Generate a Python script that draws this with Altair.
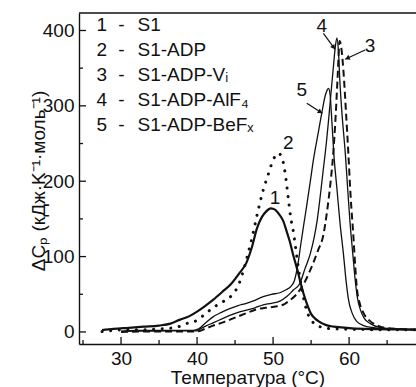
import math
import altair as alt
import pandas as pd

FONT = "Liberation Sans"
INK = "#111111"

# ---------------- data ----------------
t1 = [27.5, 29, 31, 33, 35, 36.5, 37.7, 39, 40, 41, 42.1, 43.3, 44.5, 45.5, 46.5, 47.2, 47.9, 48.5, 49.1, 49.7,
      50.3, 50.8, 51.3, 51.8, 52.2, 52.7, 53.1, 53.6, 54.0, 54.5, 55.0, 55.5, 56.0, 57.0, 58.0, 59.0, 60.0, 62.0, 65.0, 68.8]
v1 = [2.5, 4, 5.5, 7, 8.5, 11, 16, 21, 27, 34, 42.5, 53, 64, 77, 92, 112, 138, 152, 160, 164,
      162, 156, 148, 133, 120, 100, 86, 66, 51, 36, 24, 18, 14, 9, 7, 6, 5, 4, 3.5, 3]

t2 = [27.5, 29, 31, 33, 35, 37.2, 38.6, 40.1, 41.2, 42.4, 43.4, 44.6, 45.4, 46.0, 46.6, 47.3, 48.0, 48.7, 49.4,
      50.0, 50.7, 51.1, 51.6, 52.0, 52.3, 52.7, 53.0, 53.3, 53.8, 54.4, 55.0, 55.7, 56.5, 58.0, 60.0, 63.0, 68.8]
v2 = [0.5, 2, 3, 3, 4, 6, 11, 16, 25, 34, 40, 49, 61, 78, 100, 128, 160, 188, 210,
      228, 237, 233, 210, 177, 153, 131, 109, 87, 56, 29, 16, 9, 6, 4, 3.5, 3, 3]

t3 = [30, 33, 36, 39, 40.2, 41, 42, 43.5, 45, 46.5, 47.8, 49, 50.5, 51.5, 52.2, 53.0, 53.6, 54.2, 54.8, 55.3,
      55.9, 56.6, 57.1, 57.5, 57.9, 58.2, 58.5, 58.75, 59.0, 59.25, 59.6, 59.9, 60.2, 60.57, 60.8, 61.0, 61.4,
      61.9, 62.7, 63.6, 65, 68.8]
v3 = [0, 0.5, 0.5, 0.5, 1, 4, 8, 13, 19, 25, 30, 32, 34, 37, 42, 49, 57, 67, 80, 92,
      108, 128, 160, 193, 235, 281, 340, 386, 375, 347, 290, 237, 180, 126, 88, 60, 38,
      25, 15, 9, 5, 3]

t4 = [30, 32, 34, 36, 38, 40, 40.6, 41.2, 42.1, 43.2, 44.3, 45.4, 46.5, 47.6, 48.7, 49.8, 50.9, 51.8, 52.7,
      53.5, 54.2, 54.9, 55.4, 55.8, 56.2, 56.6, 57.0, 57.3, 57.6, 57.9, 58.15, 58.4, 58.6, 58.8, 59.1, 59.5,
      59.8, 60.1, 60.5, 60.8, 61.1, 61.5, 62.0, 62.8, 64, 66, 68.8]
v4 = [0.5, 1, 1, 1.5, 1.5, 1.5, 5, 8, 12, 17, 22, 26, 29, 32, 36, 38, 41, 47, 56,
      64, 84, 104, 125, 148, 180, 215, 250, 281, 315, 348, 375, 390, 372, 330, 285, 237,
      192, 148, 102, 69, 45, 29, 18, 11, 6, 4, 3]

t5 = [30, 32, 34, 36, 38, 39.5, 40.2, 41, 42.1, 43.2, 44.3, 45.4, 46.5, 47.6, 48.7, 49.8, 50.9, 51.7, 52.3,
      52.8, 53.3, 53.6, 54.0, 54.4, 54.9, 55.3, 55.9, 56.4, 56.9, 57.3, 57.5, 57.7, 58.0, 58.4, 58.8, 59.25,
      59.6, 59.9, 60.4, 61.0, 62, 63, 65, 68.8]
v5 = [1, 2, 2, 2, 2, 2, 4, 11, 20, 26, 31, 35, 38, 42, 47, 50, 52, 56, 60,
      68, 92, 113, 140, 166, 200, 228, 262, 290, 315, 323, 315, 285, 235, 190, 145, 104,
      68, 44, 25, 14, 8, 6, 4, 3]

legend_num = ["1", "2", "3", "4", "5"]
legend_txt = ["S1", "S1-ADP", "S1-ADP-Vᵢ", "S1-ADP-AlF₄", "S1-ADP-BeFₓ"]

curve_lbl = ["1", "2", "3", "4", "5"]
curve_lbl_t = [50.26, 52.01, 62.76, 56.41, 53.78]
curve_lbl_v = [177.4, 250.3, 379.4, 406.6, 321.0]

arrow_t0 = [62.11, 56.62, 54.43]
arrow_v0 = [374.1, 396.3, 303.4]
arrow_t1 = [59.47, 58.16, 56.49]
arrow_v1 = [361.8, 375.0, 290.1]

x_major = [30, 40, 50, 60]
x_minor = [25, 35, 45, 55, 65]
y_major = [0, 100, 200, 300, 400]
y_minor = [50, 150, 250, 350]

# ---------------- layout ----------------
W, H = 337, 331
XD = [24.47, 68.8]
YD = [-16.0, 423.2]
pxT = W / (XD[1] - XD[0])
pxV = H / (YD[1] - YD[0])

xs = alt.Scale(domain=XD, nice=False, zero=False)
ys = alt.Scale(domain=YD, nice=False, zero=False)

x_axis = alt.Axis(values=x_major, ticks=False, grid=False, labelPadding=5, labelFont=FONT,
                  labelFontSize=19, labelColor=INK, domainColor=INK, domainWidth=1.4,
                  title="Температура (°C)", titleFont=FONT, titleFontSize=19, titleFontWeight="normal",
                  titleColor=INK, titleX=W / 2, titleY=39, titleBaseline="alphabetic", titleAlign="center")
y_axis = alt.Axis(values=y_major, ticks=False, grid=False, labelPadding=5, labelFont=FONT,
                  labelFontSize=19, labelColor=INK, domainColor=INK, domainWidth=1.4,
                  title="ΔCₚ (кДж·K⁻¹·моль⁻¹)", titleFont=FONT, titleFontSize=19, titleFontWeight="normal",
                  titleColor=INK, titleAngle=270, titleX=-35, titleY=H / 2 + 2, titleBaseline="alphabetic",
                  titleAlign="center")

X = lambda f: alt.X(f, type="quantitative", scale=xs, axis=x_axis)
Y = lambda f: alt.Y(f, type="quantitative", scale=ys, axis=y_axis)

def curve(t, v, **style):
    df = pd.DataFrame({"T": t, "v": v})
    return alt.Chart(df).mark_line(color=INK, interpolate="monotone", **style).encode(x=X("T"), y=Y("v"))

layers = [
    curve(t2, v2, strokeWidth=3, strokeDash=[0.1, 8.5], strokeCap="round"),
    curve(t1, v1, strokeWidth=2.2),
    curve(t5, v5, strokeWidth=1.3),
    curve(t4, v4, strokeWidth=1.3),
    curve(t3, v3, strokeWidth=2.0, strokeDash=[7, 4]),
]

# inward ticks
def xticks(vals, ln):
    df = pd.DataFrame({"T": vals})
    return alt.Chart(df).mark_rule(color=INK, strokeWidth=1.3).encode(
        x=X("T"), y=alt.value(H), y2=alt.value(H - ln))

def yticks(vals, ln):
    df = pd.DataFrame({"v": vals})
    return alt.Chart(df).mark_rule(color=INK, strokeWidth=1.3).encode(
        y=Y("v"), x=alt.value(0), x2=alt.value(ln))

layers += [xticks(x_major, 7), xticks(x_minor, 4), yticks(y_major, 7), yticks(y_minor, 4)]

# top frame line
layers.append(alt.Chart(pd.DataFrame({"a": [0]})).mark_rule(color=INK, strokeWidth=1.4).encode(
    x=alt.value(0), x2=alt.value(W), y=alt.value(0)))

# legend text
leg = pd.DataFrame({"num": legend_num, "txt": legend_txt, "row": list(range(len(legend_num)))})
leg["py"] = 12 + 25 * leg["row"]
txt_kw = dict(font=FONT, fontSize=19, color=INK, baseline="middle")
layers.append(alt.Chart(leg).mark_text(align="left", **txt_kw).encode(
    x=alt.value(17.5), y=alt.Y("py:Q", scale=None), text="num:N"))
layers.append(alt.Chart(leg).mark_text(align="center", **txt_kw).encode(
    x=alt.value(42.5), y=alt.Y("py:Q", scale=None), text=alt.value("-")))
layers.append(alt.Chart(leg).mark_text(align="left", **txt_kw).encode(
    x=alt.value(58.5), y=alt.Y("py:Q", scale=None), text="txt:N"))

# curve labels
lab = pd.DataFrame({"T": curve_lbl_t, "v": curve_lbl_v, "t": curve_lbl})
layers.append(alt.Chart(lab).mark_text(align="center", **txt_kw).encode(x=X("T"), y=Y("v"), text="t:N"))

# arrows
arr = pd.DataFrame({"T": arrow_t0, "v": arrow_v0, "T2": arrow_t1, "v2": arrow_v1})
layers.append(alt.Chart(arr).mark_rule(color=INK, strokeWidth=1.2).encode(
    x=X("T"), y=Y("v"), x2="T2", y2="v2"))
hx, hy, ha = [], [], []
for a, b, c, d in zip(arrow_t0, arrow_v0, arrow_t1, arrow_v1):
    dx = (c - a) * pxT
    dy = -(d - b) * pxV
    L = math.hypot(dx, dy)
    back = 2.5
    hx.append(c - dx / L * back / pxT)
    hy.append(d + dy / L * back / pxV)
    ha.append(math.degrees(math.atan2(dx, -dy)) % 360)
heads = pd.DataFrame({"T": hx, "v": hy, "ang": ha})
layers.append(alt.Chart(heads).mark_point(shape="triangle-up", filled=True, color=INK, opacity=1, size=28).encode(
    x=X("T"), y=Y("v"), angle=alt.Angle("ang:Q", scale=None)))

chart = alt.layer(*layers).properties(
    width=W, height=H,
    padding={"left": 79, "top": 13, "right": 0, "bottom": 43},
    autosize=alt.AutoSizeParams(type="none"),
).configure_view(stroke=None)

chart.save("out.html", embed_options={"renderer": "svg", "actions": False})
